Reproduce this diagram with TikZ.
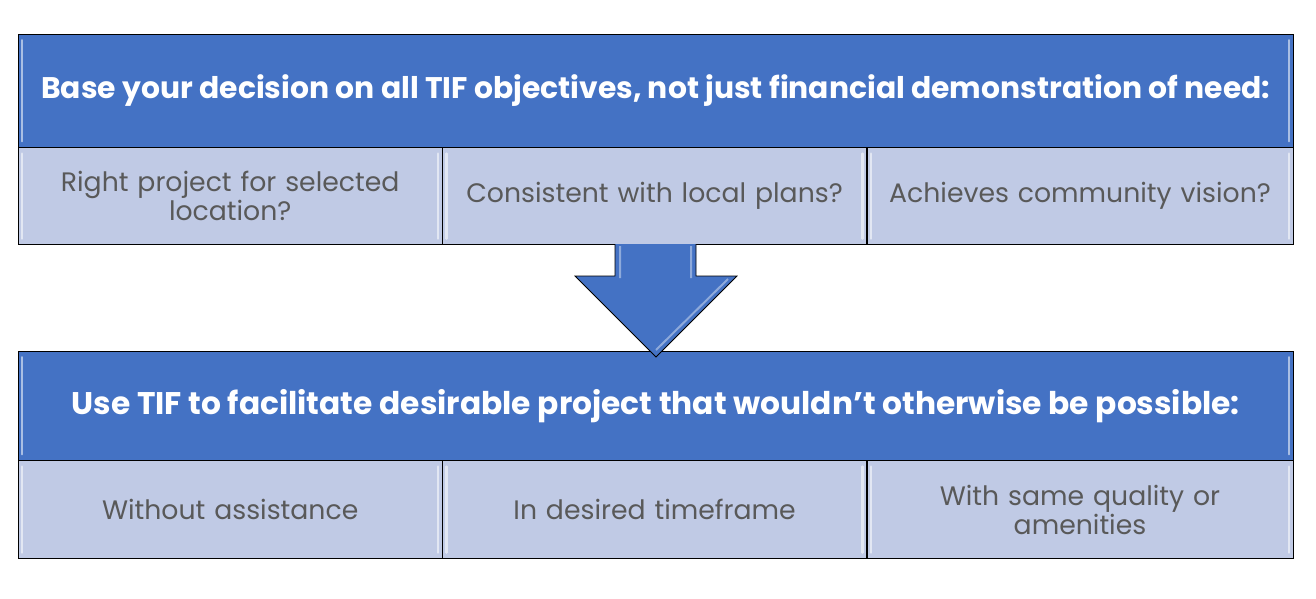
\documentclass[tikz,border=0pt]{standalone}
\usepackage{fontspec}
\setmainfont{Poppins}
\usetikzlibrary{positioning}
\definecolor{hdrblue}{HTML}{4472C4}
\definecolor{cellblue}{HTML}{C0CAE5}
\definecolor{txtgray}{HTML}{595959}
\tikzset{
 bevel/.style={path picture={
  \draw[white,opacity=.55,line width=2.5pt,line cap=round]
   ([shift={(4pt,6pt)}]path picture bounding box.south west)--([shift={(4pt,-6pt)}]path picture bounding box.north west)
   ([shift={(-4pt,6pt)}]path picture bounding box.south east)--([shift={(-4pt,-6pt)}]path picture bounding box.north east);}},
 hdr/.style={draw=black,fill=hdrblue,text=white,bevel,inner sep=0pt,minimum width=1275pt},
 cell/.style={draw=black,fill=cellblue,text=txtgray,bevel,inner sep=0pt,align=center,
  text width=400pt,font=\fontsize{26.7}{29}\selectfont,minimum width=424pt,minimum height=97pt},
}
\begin{document}
\begin{tikzpicture}[x=1pt,y=-1pt,line join=miter]
 \useasboundingbox (0,0) rectangle (1316,598);
 % top block
 \node[hdr,minimum height=113pt,anchor=north west,font=\fontsize{29.8}{32}\selectfont\bfseries] (hdrTop) at (18,34)
  {Base your decision on all TIF objectives, not just financial demonstration of need:};
 \node[cell,anchor=north west] (topA) at (hdrTop.south west) {Right project for selected\\location?};
 \node[cell,right=0pt of topA] (topB) {Consistent with local plans?};
 \node[cell,right=0pt of topB,minimum width=426pt] (topC) {Achieves community vision?};
 % bottom block
 \node[hdr,minimum height=109pt,anchor=north west,font=\fontsize{31.3}{34}\selectfont\bfseries] (hdrBot) at (18,351)
  {Use TIF to facilitate desirable project that wouldn’t otherwise be possible:};
 \node[cell,minimum height=98pt,anchor=north west] (botA) at (hdrBot.south west) {Without assistance};
 \node[cell,minimum height=98pt,right=0pt of botA] (botB) {In desired timeframe};
 \node[cell,minimum height=98pt,right=0pt of botB,minimum width=426pt] (botC) {With same quality or\\amenities};
 % arrow
 \fill[hdrblue] (615,244)--(615,276)--(575,276)--(656,357)--(737,276)--(696,276)--(696,244)--cycle;
 \draw[white,opacity=.4,line width=2pt] (620,246)--(620,278) (691,246)--(691,278) (656,350)--(728,279);
 \draw[black,line width=.8pt] (615,244)--(615,276)--(575,276)--(656,357)--(737,276)--(696,276)--(696,244);
\end{tikzpicture}
\end{document}
